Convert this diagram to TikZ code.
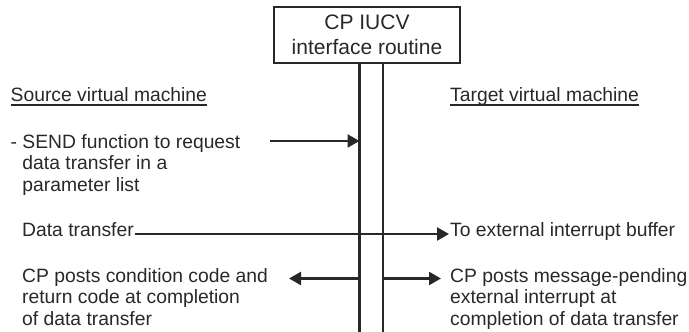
\documentclass[tikz,border=0pt]{standalone}
\usepackage{fontspec}
\setmainfont{Liberation Sans}
\usetikzlibrary{arrows.meta}
\definecolor{ink}{RGB}{40,40,40}
\begin{document}
\begin{tikzpicture}[x=1pt,y=-1pt,
  txt/.style={inner sep=0pt,text=ink,font=\fontsize{19.3}{21.7}\selectfont,align=left},
  ln/.style={draw=ink,line width=2.2pt},
  arr/.style={draw=ink,line width=2.4pt,-{Triangle[length=12pt,width=13pt]}},
  uline/.style={draw=ink,line width=1.4pt}]
\useasboundingbox (0,0) rectangle (689,332);
% box
\node[draw=ink,line width=2.2pt,minimum width=186pt,minimum height=56pt,inner sep=0pt,
      text=ink,font=\fontsize{21}{25}\selectfont,align=center] (cp) at (367,35)
      {CP IUCV\\interface routine};
% vertical lines
\coordinate (l1) at (359.5,332);
\coordinate (l2) at (383,332);
\draw[ln] (cp.south -| l1) -- (l1);
\draw[ln] (cp.south -| l2) -- (l2);
% headers
\node[txt,anchor=base west] (src) at (10.5,101) {Source virtual machine};
\node[txt,anchor=base west] (tgt) at (450,101) {Target virtual machine};
\draw[uline] ([yshift=-4pt]src.base west) -- ([yshift=-4pt]src.base east);
\draw[uline] ([yshift=-4pt]tgt.base west) -- ([yshift=-4pt]tgt.base east);
% SEND
\node[txt,anchor=north west] (send) at (10.5,134)
  {- SEND function to request\\\hphantom{-\ }data transfer in a\\\hphantom{-\ }parameter list};
\coordinate (s0) at (270,141);
\draw[arr] (s0) -- (s0 -| l1);
% data transfer
\node[txt,anchor=base west] (dt) at (22,236.5) {Data transfer};
\node[txt,anchor=base west] (to) at (450,236.5) {To external interrupt buffer};
\coordinate (d0) at (135,234);
\coordinate (d1) at (449,234);
\draw[arr] (d0) -- (d1);
% completion
\node[txt,anchor=north west] (cc) at (22,268)
  {CP posts condition code and\\return code at completion\\of data transfer};
\node[txt,anchor=north west] (mp) at (450,268)
  {CP posts message-pending\\external interrupt at\\completion of data transfer};
\coordinate (c0) at (289,278.5);
\coordinate (m0) at (441,278.5);
\draw[arr] (c0 -| l1) -- (c0);
\draw[arr] (m0 -| l2) -- (m0);
\end{tikzpicture}
\end{document}
